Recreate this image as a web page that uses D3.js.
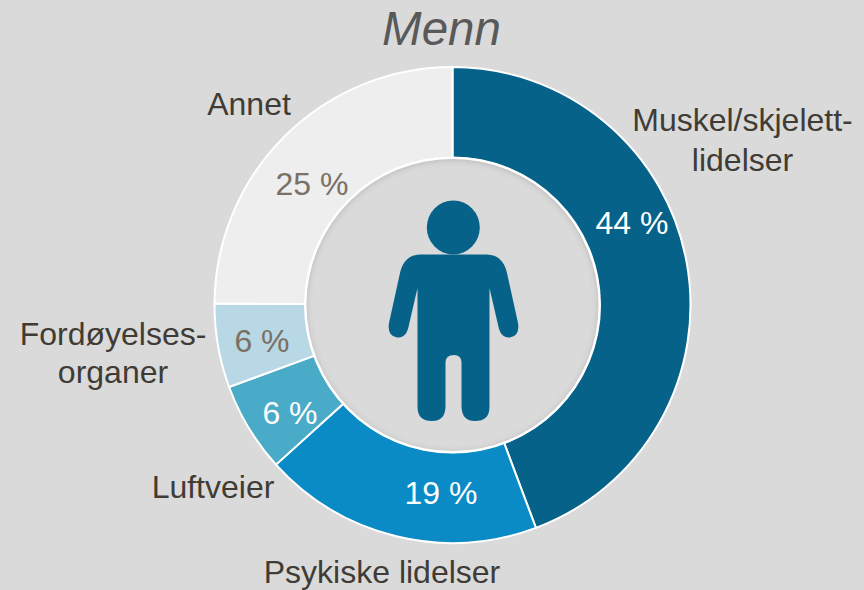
<!DOCTYPE html>
<html><head><meta charset="utf-8"><script src="https://cdn.jsdelivr.net/npm/d3@7"></script>
<style>html,body{margin:0;padding:0;background:#dadada}svg{display:block}</style></head><body>
<svg id="c" width="864" height="590"></svg>
<script>
const categories=["Muskel/skjelett-lidelser","Psykiske lidelser","Luftveier","Fordøyelses-organer","Annet"];
const values=[44.3,19,6.1,5.7,24.9];
const colors=["#066289","#0a8bc6","#49abc7","#b8d8e6","#eeeeee"];
const pctColors=["#ffffff","#ffffff","#ffffff","#7a7064","#7a7064"];
const catLines=[["Muskel/skjelett-","lidelser"],["Psykiske lidelser"],["Luftveier"],["Fordøyelses-","organer"],["Annet"]];
const catPos=[[[742.5,131],[742.5,171]],[[382,583]],[[213,498]],[[113,345],[113,383]],[[249,115]]];
const pctPos=[[632,222],[441,492],[290,412],[262,340],[312,183]];
const svg=d3.select("#c");
const font="Liberation Sans, Arial, sans-serif";
const cx=452.5,cy=305,R=238,r=147;
const defs=svg.append("defs");
const f=defs.append("filter").attr("id","inset").attr("x","-5%").attr("y","-5%").attr("width","110%").attr("height","110%");
f.append("feComponentTransfer").attr("in","SourceAlpha").attr("result","inv").append("feFuncA").attr("type","table").attr("tableValues","1 0");
f.append("feGaussianBlur").attr("in","inv").attr("stdDeviation",3).attr("result","b");
f.append("feOffset").attr("in","b").attr("dx",0).attr("dy",1).attr("result","o");
f.append("feFlood").attr("flood-color","#000").attr("flood-opacity",.32);
f.append("feComposite").attr("in2","o").attr("operator","in").attr("result","sh");
f.append("feComposite").attr("in","sh").attr("in2","SourceAlpha").attr("operator","in").attr("result","isn");
const m=f.append("feMerge");m.append("feMergeNode").attr("in","SourceGraphic");m.append("feMergeNode").attr("in","isn");
const g=svg.append("g").attr("transform",`translate(${cx},${cy})`);
const pie=d3.pie().sort(null).value(d=>d)(values);
const arc=d3.arc().innerRadius(r).outerRadius(R);
g.selectAll("path.s").data(pie).join("path").attr("class","s").attr("d",arc)
 .attr("fill",(d,i)=>colors[i]).attr("stroke","#fff").attr("stroke-width",2);
g.append("circle").attr("r",r+1.5).attr("fill","#fff");
g.append("circle").attr("r",r-1).attr("fill","#dadada").attr("filter","url(#inset)");
svg.selectAll("text.p").data(pie).join("text").attr("class","p")
 .attr("x",(d,i)=>pctPos[i][0]).attr("y",(d,i)=>pctPos[i][1])
 .attr("text-anchor","middle").attr("dy",".36em").attr("font-family",font).attr("font-size",32)
 .attr("fill",(d,i)=>pctColors[i]).text(d=>Math.round(d.value)+" %");
svg.append("text").attr("x",441.5).attr("y",45).attr("text-anchor","middle").attr("font-family",font).attr("font-size",47.5).attr("font-style","italic").attr("fill","#595959").text("Menn");
catLines.forEach((ls,i)=>{const t=svg.append("text").attr("text-anchor","middle").attr("font-family",font).attr("font-size",32).attr("fill","#403c35");
 ls.forEach((l,j)=>t.append("tspan").attr("x",catPos[i][j][0]).attr("y",catPos[i][j][1]).text(l));});
const p=svg.append("g").attr("fill","#066289");
p.append("ellipse").attr("cx",453.3).attr("cy",227.5).attr("rx",26.5).attr("ry",27);
p.append("path").attr("d","M420 254.5 H487 Q503 255 507 273 L518 323 Q520 336 510 337.5 Q502 338.5 499 329 L489.5 288 V407 Q489.5 421 475 421 Q462 421 461.5 407 V362 Q461 355 454 355 Q446 355 445.5 362 V407 Q445 421 432 421 Q417.5 421 417.5 407 V288 L408 329 Q405 338.5 397 337.5 Q387 336 389 323 L400 273 Q404 255 420 254.5 Z");
</script></body></html>
